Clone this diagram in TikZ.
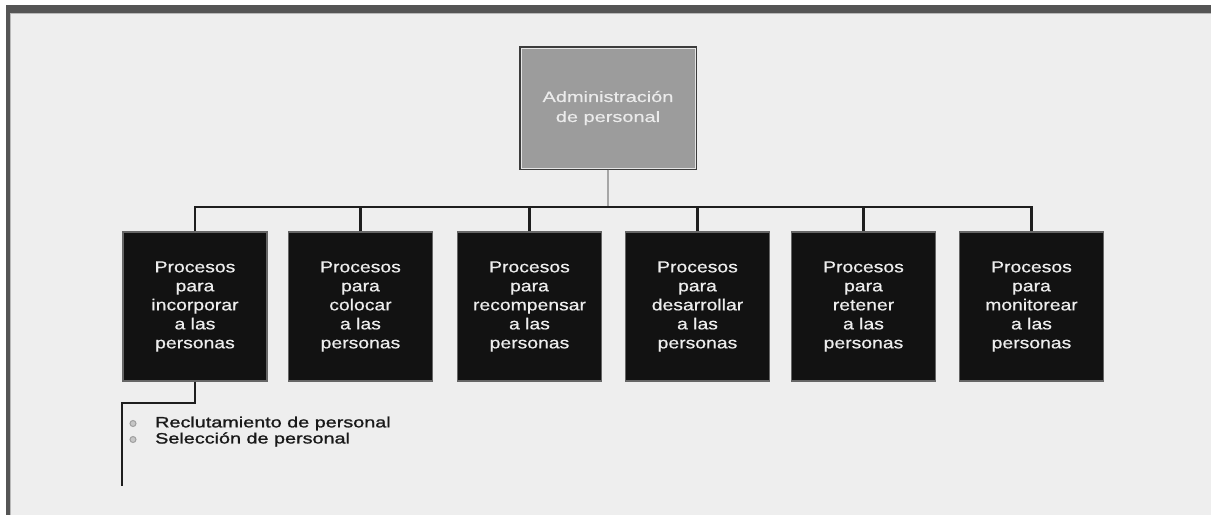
\documentclass[tikz,border=0pt]{standalone}
\usepackage{fontspec}
\setmainfont{Liberation Sans}
\newfontfamily\procfont[FakeStretch=1.21,FakeBold=0.6]{Liberation Sans}
\newfontfamily\headfont[FakeStretch=1.33,FakeBold=0.4]{Liberation Sans}
\newfontfamily\itemfont[FakeStretch=1.32,FakeBold=1.2]{Liberation Sans}
\definecolor{pagebg}{HTML}{EEEEEE}
\definecolor{framegray}{HTML}{555555}
\definecolor{headfill}{HTML}{9C9C9C}
\definecolor{procfill}{HTML}{121212}
\definecolor{wire}{HTML}{1E1E1E}
\tikzset{
  headbox/.style={fill=headfill, draw=framegray!70!black, line width=1.4pt,
    minimum width=176pt, minimum height=122pt, inner sep=0pt,
    align=center, text=white!92!black,
    font=\headfont\fontsize{15}{20}\selectfont},
  procbox/.style={fill=procfill, draw=gray!80!black, line width=1.3pt,
    minimum width=144pt, minimum height=149pt, inner sep=0pt,
    align=center, text=white!93!black,
    font=\procfont\fontsize{16}{19}\selectfont},
  buswire/.style={draw=wire, line width=2.6pt},
  dropwire/.style={draw=wire, line width=2.2pt},
  stemwire/.style={draw=gray!70, line width=1.6pt},
  listwire/.style={draw=wire, line width=2pt},
  bulletdot/.style={circle, draw=gray!75, fill=gray!45, line width=1pt,
    minimum size=6pt, inner sep=0pt},
  itemtext/.style={anchor=west, inner sep=0pt, text=black!90,
    font=\itemfont\fontsize{15}{15}\selectfont}
}
\begin{document}
\begin{tikzpicture}[x=1pt,y=-1pt]
\useasboundingbox (0,0) rectangle (1211,515);
% window frame and page
\fill[white] (0,0) rectangle (1211,515);
\fill[pagebg] (6,5) rectangle (1211,515);
\fill[framegray] (6,5) rectangle (1211,12.5);
\fill[framegray] (6,5) rectangle (9.5,515);
\draw[gray!55, line width=1pt] (10.2,515) -- (10.2,13.2) -- (1211,13.2);

% top box
\node[headbox] (adm) at (608,108) {Administración\\de personal};
\draw[white!80!gray, line width=0.6pt]
  ([shift={(1.6,1.6)}]adm.north west) rectangle ([shift={(-1.6,-1.6)}]adm.south east);

% process boxes
\node[procbox] (p1) at (195,306.5) {Procesos\\para\\incorporar\\a las\\personas};
\node[procbox] (p2) at (360.5,306.5) {Procesos\\para\\colocar\\a las\\personas};
\node[procbox] (p3) at (529.5,306.5) {Procesos\\para\\recompensar\\a las\\personas};
\node[procbox] (p4) at (697.5,306.5) {Procesos\\para\\desarrollar\\a las\\personas};
\node[procbox] (p5) at (863.5,306.5) {Procesos\\para\\retener\\a las\\personas};
\node[procbox] (p6) at (1031.5,306.5) {Procesos\\para\\monitorear\\a las\\personas};

% connectors
\coordinate (busy) at (0,207);
\draw[stemwire] (adm.south) -- (adm.south |- busy);
\draw[buswire, line join=miter] (p1.north) -- (p1.north |- busy) -- (p6.north |- busy) -- (p6.north);
\foreach \n in {p2,p3,p4,p5}
  \draw[dropwire] (\n.north) -- (\n.north |- busy);

% list under the first process
\coordinate (lt) at (122,403);
\coordinate (lb) at (122,486);
\draw[listwire, line join=miter] (p1.south) |- (lt) -- (lb);
\node[bulletdot] (b1) at (133,423.5) {};
\node[bulletdot] (b2) at (133,439.5) {};
\node[itemtext] (i1) at (155,423.5) {Reclutamiento de personal};
\node[itemtext] (i2) at (155,439.5) {Selección de personal};
\end{tikzpicture}
\end{document}
